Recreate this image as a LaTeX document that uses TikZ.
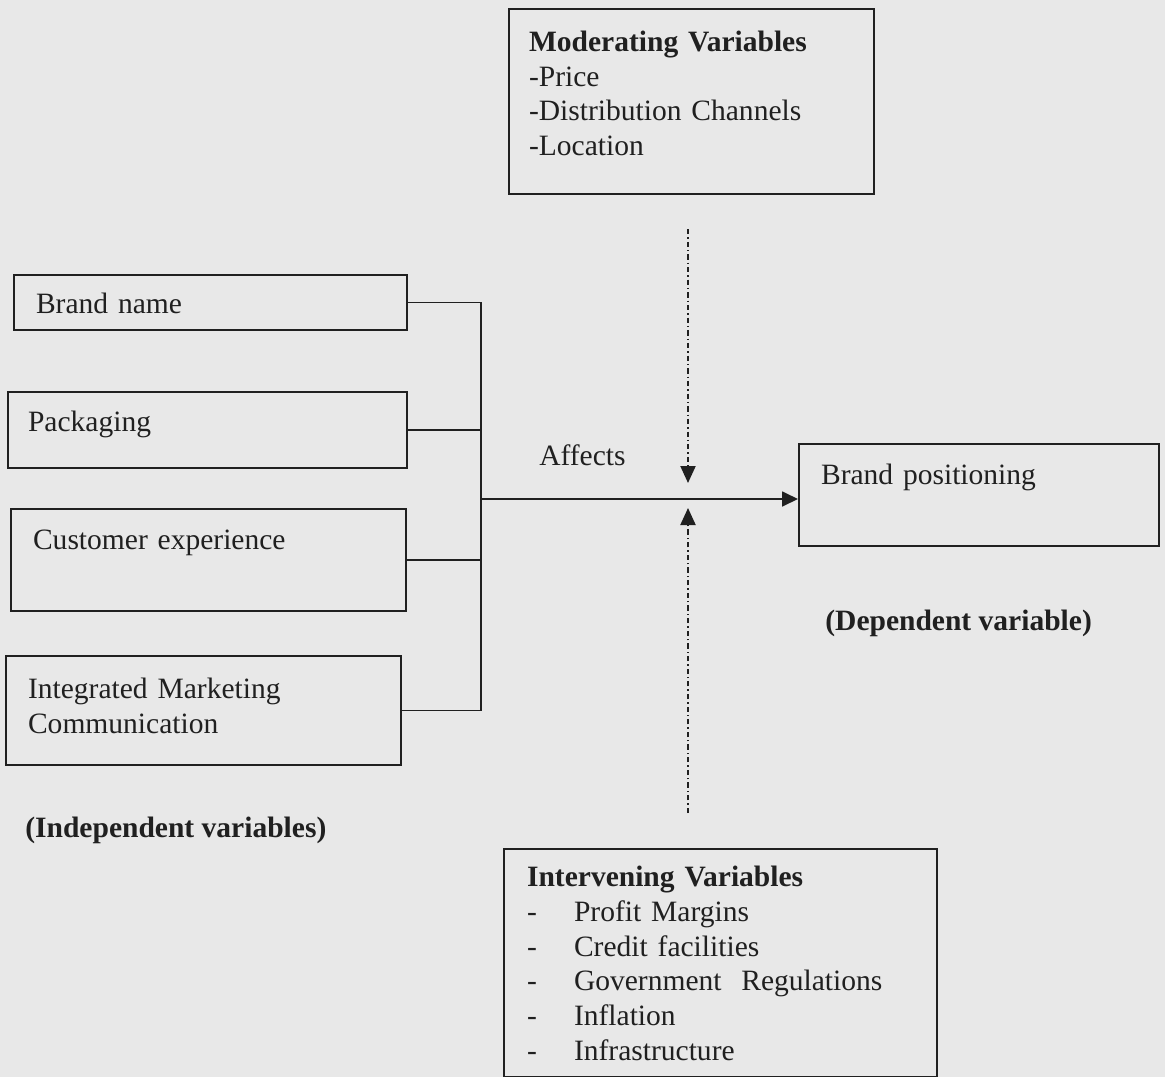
\documentclass[tikz,border=0pt]{standalone}
\usepackage{fontspec}
\setmainfont{Liberation Serif}
\usepackage{tikz}
\usetikzlibrary{positioning,arrows.meta,calc}
\definecolor{tinta}{RGB}{32,32,32}
\definecolor{fondo}{RGB}{232,232,232}
\newcommand{\guion}[1]{\makebox[0.94cm][l]{-}#1}

\begin{document}
\begin{tikzpicture}[
  font=\fontsize{16.8}{19.9}\selectfont,
  caja/.style={rectangle, draw=tinta, line width=1.2pt, anchor=north west,
    inner ysep=0pt, align=left, text=tinta},
  flecha/.style={-{Triangle[length=3.2mm, width=3mm]}, line width=1pt, color=tinta},
  flechamod/.style={-{Triangle[length=3.4mm, width=3mm]}, line width=1.2pt, color=tinta,
    dash pattern=on 3pt off 1.7pt on 0.8pt off 1.7pt},
  linea/.style={line width=1pt, color=tinta},
  rotulo/.style={font=\fontsize{16.8}{19.9}\selectfont\bfseries, text=tinta, inner sep=0pt}
]
\useasboundingbox (0,0) rectangle (23.3,-21.54);
\fill[fondo] (0,0) rectangle (23.3,-21.54);
% variables independientes
\node[caja, text width=6.98cm, inner xsep=0.44cm, text height=0.76cm, text depth=0.34cm]
  (marca) at (0.26,-5.48) {Brand name};
\node[caja, text width=7.18cm, inner xsep=0.40cm, text height=0.78cm, text depth=0.74cm]
  (empaque) at (0.14,-7.82) {Packaging};
\node[caja, text width=7.02cm, inner xsep=0.44cm, text height=0.80cm, text depth=1.24cm]
  (experiencia) at (0.20,-10.16) {Customer experience};
\node[caja, text width=7.02cm, inner xsep=0.44cm, text height=0.84cm, text depth=1.34cm]
  (imc) at (0.10,-13.10) {Integrated Marketing\\Communication};
% variable dependiente
\node[caja, text width=6.32cm, inner xsep=0.44cm, text height=0.80cm, text depth=1.24cm]
  (posicion) at (15.96,-8.86) {Brand positioning};
% moderadoras e intervinientes
\node[caja, text width=6.50cm, inner xsep=0.40cm, text height=0.84cm, text depth=2.86cm]
  (moderadoras) at (10.16,-0.16)
  {\textbf{Moderating Variables}\\-Price\\-Distribution Channels\\-Location};
\node[caja, text width=7.74cm, inner xsep=0.46cm, text height=0.74cm, text depth=3.82cm]
  (intervinientes) at (10.06,-16.96)
  {\textbf{Intervening Variables}\\\guion{Profit Margins}\\\guion{Credit facilities}\\
   \guion{Government\ \ Regulations}\\\guion{Inflation}\\\guion{Infrastructure}};
\node[rotulo, anchor=base west] (independientes) at ($(imc.south west)+(0.40,-1.42)$)
  {(Independent variables)};
\node[rotulo, anchor=base west] (dependiente) at ($(posicion.south west)+(0.54,-1.66)$)
  {(Dependent variable)};
\coordinate (union) at (9.62,-9.98);
\coordinate (puntaA) at (13.76,-9.66);
\coordinate (puntaB) at (13.76,-10.16);
\draw[linea] (marca.east) -| (union);
\draw[linea] (empaque.east) -| (union);
\draw[linea] (experiencia.east) -| (union);
\draw[linea] (imc.east) -| (union);
\draw[flecha] (union) -- (union -| posicion.west)
  node[pos=0.32, anchor=base, yshift=0.68cm, text=tinta] {Affects};
\draw[flechamod, shorten <=0.68cm] (moderadoras.south -| puntaA) -- (puntaA);
\draw[flechamod, shorten <=0.70cm] (intervinientes.north -| puntaB) -- (puntaB);
\end{tikzpicture}
\end{document}
